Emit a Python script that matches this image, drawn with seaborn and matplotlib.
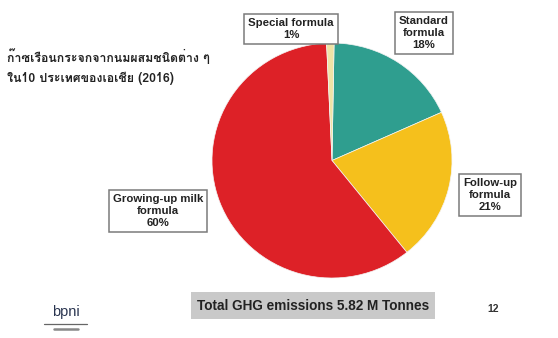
import matplotlib
matplotlib.use("Agg")
import matplotlib.pyplot as plt
from matplotlib import font_manager
from matplotlib.ft2font import FT2Font
import seaborn as sns

# Share of total greenhouse-gas emissions by formula type
categories = ["Standard\nformula", "Follow-up\nformula", "Growing-up milk\nformula", "Special formula"]
shares = [18, 21, 60, 1]
slice_colors = ["#2f9e8f", "#f5c01c", "#dd2127", "#efe3a6"]

title_lines = ["ก๊าซเรือนกระจกจากนมผสมชนิดต่าง ๆ", "ใน10 ประเทศของเอเชีย (2016)"]
total_note = "Total GHG emissions 5.82 M Tonnes"
page_number = "12"

sns.set_theme(style="white")
plt.rcParams["font.family"] = ["Liberation Sans", "DejaVu Sans"]


def find_thai_family():
    for entry in font_manager.fontManager.ttflist:
        try:
            cmap = FT2Font(entry.fname).get_charmap()
        except Exception:
            continue
        if ord("ก") in cmap and ord("เ") in cmap:
            return entry.name
    return "DejaVu Sans"


thai_family = find_thai_family()

W, H = 558, 338
fig = plt.figure(figsize=(W / 100, H / 100), dpi=100)
fig.patch.set_facecolor("white")


def fx(px):
    return px / W


def fy(py):
    return 1 - py / H


# pie occupies pixels x 212..452, y 43..278
ax = fig.add_axes([fx(212), fy(278), fx(452) - fx(212), fy(43) - fy(278)])
ax.pie(shares, colors=slice_colors, startangle=89, counterclock=False,
       radius=1.0, wedgeprops=dict(linewidth=0.5, edgecolor="#f4f4f4"))
ax.set_xlim(-1, 1)
ax.set_ylim(-1, 1)
ax.set_aspect("auto")
ax.axis("off")

box = dict(boxstyle="square,pad=0.35", fc="white", ec="#7a7a7a", lw=1.1)
label_pos = [(424, 33), (490, 195), (158, 211), (291, 29)]
for name, val, (px, py) in zip(categories, shares, label_pos):
    fig.text(fx(px), fy(py), f"{name}\n{val}%", ha="center", va="center",
             fontsize=8.2, fontweight="bold", color="#222222",
             linespacing=1.2, bbox=box)

for i, line in enumerate(title_lines):
    fig.text(fx(7), fy(57 + i * 21), line, ha="left", va="center",
             fontsize=8.9, fontweight="bold", color="#222222",
             family=[thai_family, "DejaVu Sans"])

fig.text(fx(313), fy(305.5), total_note, ha="center", va="center",
         fontsize=9.8, fontweight="bold", color="#222222",
         bbox=dict(boxstyle="square,pad=0.45", fc="#c9c9c9", ec="none"))

fig.text(fx(493), fy(309), page_number, ha="center", va="center",
         fontsize=7.5, fontweight="bold", color="#333333")

# organisation mark
fig.text(fx(66), fy(312), "bpni", ha="center", va="center",
         fontsize=10.5, color="#2a3550")
fig.add_artist(plt.Line2D([fx(44), fx(87)], [fy(324), fy(324)],
                          color="#666666", lw=0.9))
fig.add_artist(plt.Line2D([fx(54), fx(78)], [fy(329), fy(329)],
                          color="#888888", lw=1.8))

fig.savefig("out.png", dpi=100, facecolor="white")
